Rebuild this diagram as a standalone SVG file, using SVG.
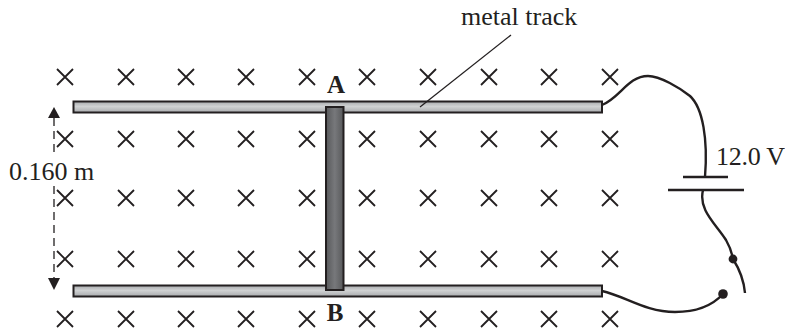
<svg xmlns="http://www.w3.org/2000/svg" width="785" height="333" viewBox="0 0 785 333">
<style>
.t{font-family:"Liberation Serif","Times New Roman",serif;font-size:26px;fill:#231f20}
.b{font-weight:bold;text-anchor:middle;font-size:25px}
.x{fill:none;stroke:#231f20;stroke-width:1.8}
.w{fill:none;stroke:#231f20;stroke-width:2.4}
.track{fill:url(#g);stroke:#231f20;stroke-width:2}
.plate{stroke:#231f20;stroke-width:2.4}
.k{fill:#231f20}
</style>
<defs>
<linearGradient id="g" x1="0" y1="0" x2="0" y2="1"><stop offset="0" stop-color="#a8aaad"/><stop offset=".45" stop-color="#d0d2d3"/><stop offset="1" stop-color="#a8aaad"/></linearGradient>
<linearGradient id="d" x1="0" y1="0" x2="1" y2="0"><stop offset="0" stop-color="#58595b"/><stop offset=".5" stop-color="#77787b"/><stop offset="1" stop-color="#58595b"/></linearGradient>
<path id="c" d="M-8-8 8 8M8-8-8 8"/>
</defs>
<g id="field" class="x">
<use href="#c" x="65" y="77"/><use href="#c" x="126" y="77"/><use href="#c" x="186" y="77"/><use href="#c" x="246" y="77"/><use href="#c" x="307" y="77"/><use href="#c" x="367" y="77"/><use href="#c" x="428" y="77"/><use href="#c" x="489" y="77"/><use href="#c" x="549" y="77"/><use href="#c" x="610" y="77"/>
<use href="#c" x="65" y="139"/><use href="#c" x="126" y="139"/><use href="#c" x="186" y="139"/><use href="#c" x="246" y="139"/><use href="#c" x="307" y="139"/><use href="#c" x="367" y="139"/><use href="#c" x="428" y="139"/><use href="#c" x="489" y="139"/><use href="#c" x="549" y="139"/><use href="#c" x="610" y="139"/>
<use href="#c" x="65" y="198"/><use href="#c" x="126" y="198"/><use href="#c" x="186" y="198"/><use href="#c" x="246" y="198"/><use href="#c" x="307" y="198"/><use href="#c" x="367" y="198"/><use href="#c" x="428" y="198"/><use href="#c" x="489" y="198"/><use href="#c" x="549" y="198"/><use href="#c" x="610" y="198"/>
<use href="#c" x="65" y="259"/><use href="#c" x="126" y="259"/><use href="#c" x="186" y="259"/><use href="#c" x="246" y="259"/><use href="#c" x="307" y="259"/><use href="#c" x="367" y="259"/><use href="#c" x="428" y="259"/><use href="#c" x="489" y="259"/><use href="#c" x="549" y="259"/><use href="#c" x="610" y="259"/>
<use href="#c" x="65" y="319"/><use href="#c" x="126" y="319"/><use href="#c" x="186" y="319"/><use href="#c" x="246" y="319"/><use href="#c" x="307" y="319"/><use href="#c" x="367" y="319"/><use href="#c" x="428" y="319"/><use href="#c" x="489" y="319"/><use href="#c" x="549" y="319"/><use href="#c" x="610" y="319"/>
</g>
<g id="track-top"><rect class="track" x="73.5" y="101.5" width="528.5" height="11"/></g>
<g id="track-bottom"><rect class="track" x="73.5" y="285.5" width="528.5" height="11"/></g>
<g id="bar"><rect x="326" y="107" width="17.5" height="183" fill="url(#d)" stroke="#231f20" stroke-width="2"/></g>
<g id="connectors">
<path d="M511 35 420 107" fill="none" stroke="#231f20" stroke-width="1.3"/>
<path d="M54 118V154M54 186V279" fill="none" stroke="#231f20" stroke-width="1.3" stroke-dasharray="8 5"/>
<path class="k" d="M54 107 60 118H48Z"/>
<path class="k" d="M54 290 48 278H60Z"/>
<path class="w" d="M602 105C620 98 628 76 648 76C660 76 680 88 690 96C703 108 708 140 705 177"/>
<path class="w" d="M703 190C698 210 716 224 726 240C730 247 732 253 733 259C740 270 744 282 745 293"/>
<path class="w" d="M602 291C625 296 645 312 675 312C695 312 712 306 723 294"/>
</g>
<g id="battery">
<path class="plate" d="M683 177H728"/>
<path class="plate" d="M668 190H744"/>
</g>
<g id="switch">
<circle class="k" cx="733" cy="259" r="4.4"/>
<circle class="k" cx="723" cy="294" r="4.8"/>
</g>
<g id="labels">
<text class="t" x="461" y="25">metal track</text>
<text class="t" x="9" y="180">0.160 m</text>
<text class="t" x="716" y="165" textLength="69">12.0 V</text>
<text class="t b" x="336" y="93">A</text>
<text class="t b" x="335" y="321">B</text>
</g>
</svg>
